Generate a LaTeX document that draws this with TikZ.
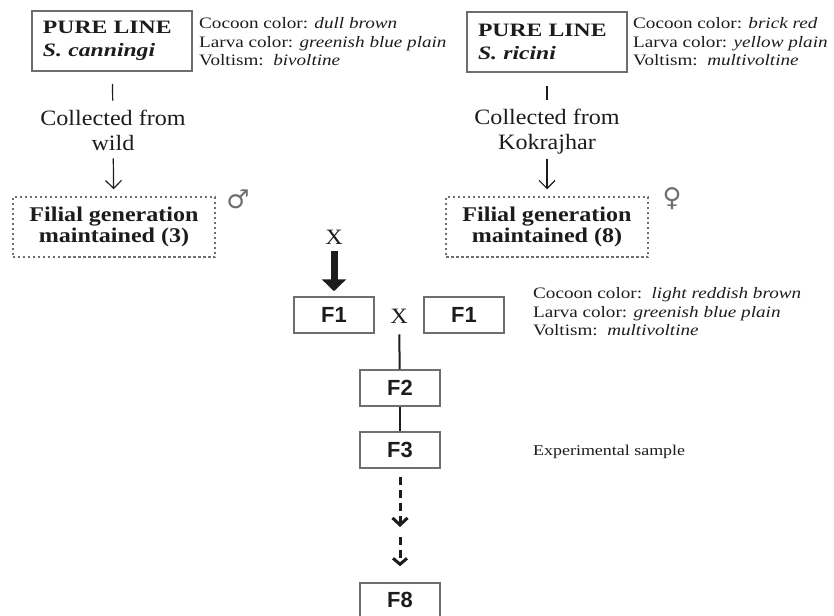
\documentclass[tikz,border=0pt]{standalone}
\usepackage{fontspec}
\setmainfont{Liberation Serif}
\newfontfamily\attrfont[FakeStretch=1.2]{Liberation Serif}
\newfontfamily\titlefont[FakeStretch=1.25]{Liberation Serif}
\newfontfamily\labelfont[FakeStretch=1.1]{Liberation Serif}
\newfontfamily\filialfont[FakeStretch=1.15]{Liberation Serif}
\newfontfamily\genfont{Liberation Sans}
\newfontfamily\symfont{DejaVu Sans}
\usetikzlibrary{arrows.meta}
\usetikzlibrary{calc}
\usetikzlibrary{scopes}

\definecolor{boxgray}{HTML}{6E6E6E}
\definecolor{inkgray}{HTML}{1C1C1C}

\begin{document}
\begin{tikzpicture}[x=1bp,y=-1bp,
        pure/.style={draw=boxgray,line width=1.6bp,text width=138bp,inner xsep=11bp,
            minimum height=60bp,align=left,text=inkgray,
            font=\titlefont\fontsize{19}{23}\selectfont\bfseries},
        filial/.style={draw=boxgray,line width=1.5bp,dash pattern=on 2.5bp off 2.5bp,
            minimum width=202bp,minimum height=60bp,align=center,text=inkgray,
            font=\filialfont\fontsize{21}{22}\selectfont\bfseries},
        gen/.style={draw=boxgray,line width=1.5bp,minimum width=80bp,minimum height=36bp,
            inner sep=0pt,text=inkgray,font=\genfont\fontsize{22}{22}\selectfont\bfseries},
        attr/.style={anchor=west,inner sep=0pt,align=left,text=inkgray,
            font=\attrfont\fontsize{16}{18.5}\selectfont},
        source/.style={inner sep=0pt,align=center,text=inkgray,
            font=\labelfont\fontsize{22}{25}\selectfont},
        cross/.style={inner sep=0pt,text=inkgray,font=\labelfont\fontsize{22}{22}\selectfont},
        sex/.style={inner sep=0pt,text=boxgray,font=\symfont\fontsize{26}{26}\selectfont},
        thinarrow/.style={draw=inkgray,line width=1.2bp,-{Straight Barb[length=8bp,width=16bp]}},
        dasharrow/.style={draw=inkgray,line width=3bp,dash pattern=on 8bp off 5bp}
    ]
        \useasboundingbox (0,0) rectangle (834,616);

        % parent lines
        \node[pure] (pureA) at (112,41) {PURE LINE\\\textit{S. canningi}};
        \node[pure] (pureB) at (547,42) {PURE LINE\\\textit{S. ricini}};
        \node[attr] (attrA) at (199,42) {Cocoon color: \textit{dull brown}\\Larva color: \textit{greenish blue plain}\\Voltism:\ \ \textit{bivoltine}};
        \node[attr] (attrB) at (633,42) {Cocoon color: \textit{brick red}\\Larva color: \textit{yellow plain}\\Voltism:\ \ \textit{multivoltine}};

        \node[source] (collA) at (113,130) {Collected from\\wild};
        \node[source] (collB) at (547,132) {Collected from\\Kokrajhar};

        \node[filial] (filA) at (114,227) {Filial generation\\maintained (3)};
        \node[filial] (filB) at (547,227) {Filial generation\\maintained (8)};
        \node[sex] (male) at (238,199) {♂};
        \node[sex] (female) at (672,199) {♀};

        % crossing
        \node[cross] (crossA) at (334,237) {X};
        \node[gen] (f1a) at (334,315) {F1};
        \node[cross] (crossB) at (399,316) {X};
        \node[gen] (f1b) at (464,315) {F1};
        \node[attr] (attrF) at (533,312) {Cocoon color:\ \ \textit{light reddish brown}\\Larva color: \textit{greenish blue plain}\\Voltism:\ \ \textit{multivoltine}};

        \node[gen] (f2) at (400,388) {F2};
        \node[gen] (f3) at (400,450) {F3};
        \node[attr,font=\attrfont\fontsize{15}{18}\selectfont] (sample) at (533,452) {Experimental sample};
        \coordinate (gap) at (400,532);
        \node[gen,minimum height=34bp] (f8) at (400,600) {F8};

        { [draw=inkgray,line width=1.2bp]
            \draw[shorten <=12bp,shorten >=9bp] (pureA) -- (collA);
            \draw[shorten <=13bp,shorten >=9bp] (pureB) -- (collB);
        }
        \draw[thinarrow,shorten <=8bp,shorten >=7bp] (collA) -- (filA);
        \draw[thinarrow,shorten <=4bp,shorten >=7bp] (collB) -- (filB);

        \draw[draw=inkgray,line width=7bp,-{Triangle[length=12bp,width=24bp]},
            shorten <=7bp,shorten >=5bp] (crossA) -- (f1a);
        { [draw=inkgray,line width=2bp]
            \draw[shorten <=11bp] (crossB) -- (f2);
            \draw (f2) -- (f3);
        }
        \draw[dasharrow,-{Straight Barb[length=7bp,width=15bp]},shorten <=8bp,shorten >=5bp] (f3) -- (gap);
        \draw[dasharrow,-{Straight Barb[length=6bp,width=14bp]},shorten <=5bp,shorten >=16bp] (gap) -- (f8);
\end{tikzpicture}
\end{document}
